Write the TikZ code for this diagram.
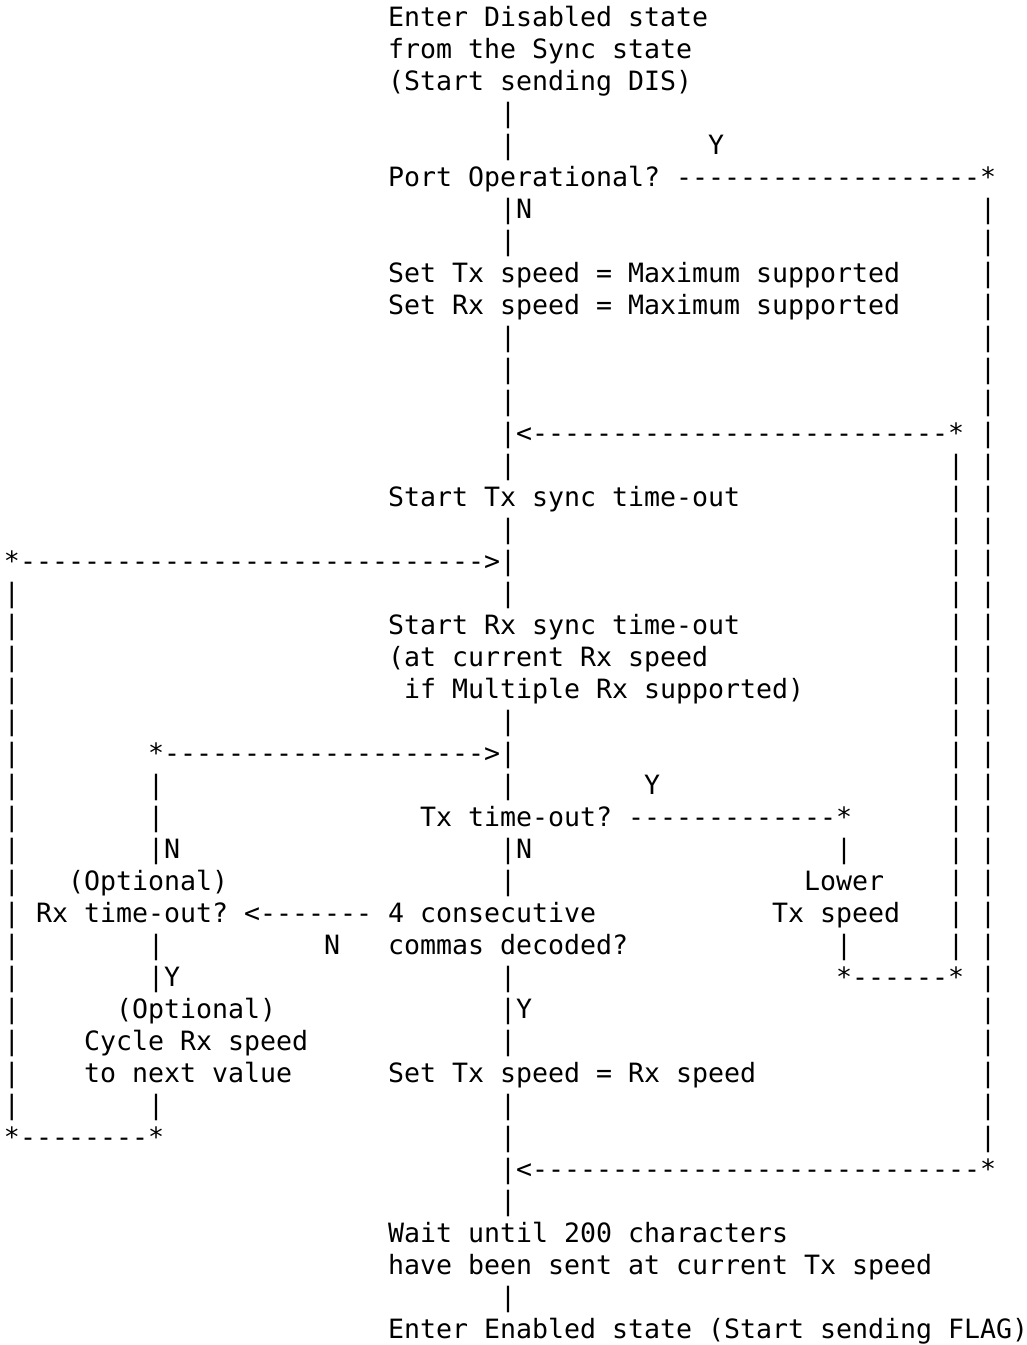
\documentclass[tikz,border=0pt]{standalone}
\usepackage{fontspec}
\newfontfamily\asciifont{DejaVu Sans Mono}[Ligatures=TeXOff]
\ExplSyntaxOn
\NewDocumentCommand\dashrun{m}{\prg_replicate:nn{#1}{-}}
\ExplSyntaxOff
% segment: name, column, row, text
\newcommand\asciiseg[4]{\node[txt] (#1) at ({4+16*#2},{1345-17-32*#3-9.5}) {#4};}
\begin{document}
\begin{tikzpicture}[x=1pt,y=1pt,
  txt/.style={anchor=base west, inner sep=0pt, outer sep=0pt, text=black,
    font=\asciifont\fontsize{26.58}{32}\selectfont\frenchspacing}]
\fill[white] (0,0) rectangle (1027,1345);
\useasboundingbox (0,0) rectangle (1027,1345);
% main text blocks
\asciiseg{t0}{24}{0}{Enter Disabled state}
\asciiseg{t1}{24}{1}{from the Sync state}
\asciiseg{t2}{24}{2}{(Start sending DIS)}
\asciiseg{t5}{24}{5}{Port Operational? \dashrun{19}*}
\asciiseg{y4}{44}{4}{Y}
\asciiseg{t8}{24}{8}{Set Tx speed = Maximum supported}
\asciiseg{t9}{24}{9}{Set Rx speed = Maximum supported}
\asciiseg{a13}{31}{13}{|<\dashrun{26}*}
\asciiseg{t15}{24}{15}{Start Tx sync time-out}
\asciiseg{a17}{0}{17}{*\dashrun{29}>|}
\asciiseg{t19}{24}{19}{Start Rx sync time-out}
\asciiseg{t20}{24}{20}{(at current Rx speed}
\asciiseg{t21}{25}{21}{if Multiple Rx supported)}
\asciiseg{a23}{9}{23}{*\dashrun{20}>|}
\asciiseg{y24}{40}{24}{Y}
\asciiseg{t25}{26}{25}{Tx time-out? \dashrun{13}*}
\asciiseg{n26a}{9}{26}{|N}
\asciiseg{n26b}{31}{26}{|N}
\asciiseg{n6}{31}{6}{|N}
\asciiseg{o27}{4}{27}{(Optional)}
\asciiseg{l27}{50}{27}{Lower}
\asciiseg{t28a}{2}{28}{Rx time-out? <\dashrun{7}}
\asciiseg{t28b}{24}{28}{4 consecutive}
\asciiseg{l28}{48}{28}{Tx speed}
\asciiseg{n29}{20}{29}{N}
\asciiseg{t29}{24}{29}{commas decoded?}
\asciiseg{y30}{9}{30}{|Y}
\asciiseg{a30}{52}{30}{*\dashrun{6}*}
\asciiseg{o31}{7}{31}{(Optional)}
\asciiseg{y31}{31}{31}{|Y}
\asciiseg{c32}{5}{32}{Cycle Rx speed}
\asciiseg{c33}{5}{33}{to next value}
\asciiseg{t33}{24}{33}{Set Tx speed = Rx speed}
\asciiseg{a35}{0}{35}{*\dashrun{8}*}
\asciiseg{a36}{31}{36}{|<\dashrun{28}*}
\asciiseg{t38}{24}{38}{Wait until 200 characters}
\asciiseg{t39}{24}{39}{have been sent at current Tx speed}
\asciiseg{t41}{24}{41}{Enter Enabled state (Start sending FLAG)}
% vertical runs of pipes
\foreach \r in {3,4,7,10,11,12,14,16,18,22,24,27,30,32,34,35,37,40}
  {\asciiseg{m\r}{31}{\r}{|}}
\foreach \r in {6,...,35}
  {\asciiseg{p\r}{61}{\r}{|}}
\foreach \r in {14,...,29}
  {\asciiseg{q\r}{59}{\r}{|}}
\foreach \r in {18,...,34}
  {\asciiseg{k\r}{0}{\r}{|}}
\foreach \r in {24,25,29,34}
  {\asciiseg{j\r}{9}{\r}{|}}
\foreach \r in {26,29}
  {\asciiseg{g\r}{52}{\r}{|}}
\end{tikzpicture}
\end{document}
